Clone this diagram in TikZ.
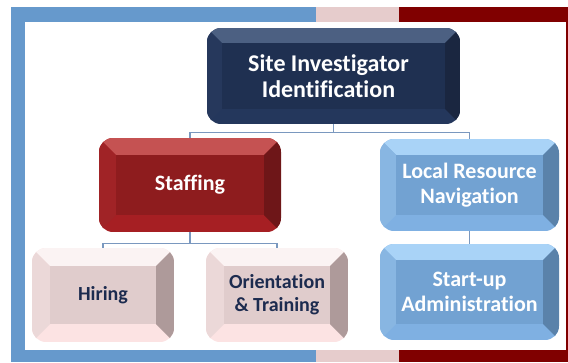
\documentclass[tikz,border=0pt]{standalone}
\usepackage{fontspec}
\setmainfont{Carlito}[Ligatures=NoCommon]
\definecolor{frameblue}{HTML}{6699CC}
\definecolor{framepink}{HTML}{E6CCCC}
\definecolor{framered}{HTML}{800000}
\definecolor{navyB}{HTML}{1F3051}
\definecolor{navyT}{HTML}{4C6082}
\definecolor{navyL}{HTML}{26385C}
\definecolor{navyR}{HTML}{1A2640}
\definecolor{navyD}{HTML}{24375C}
\definecolor{redB}{HTML}{8E1C1E}
\definecolor{redT}{HTML}{C55252}
\definecolor{redL}{HTML}{A02326}
\definecolor{redR}{HTML}{6E1618}
\definecolor{redD}{HTML}{A61F23}
\definecolor{bluB}{HTML}{72A2D2}
\definecolor{bluT}{HTML}{A9D3F7}
\definecolor{bluL}{HTML}{88B6E2}
\definecolor{bluR}{HTML}{5A82AA}
\definecolor{bluD}{HTML}{7FB0E2}
\definecolor{pnkB}{HTML}{E0CCCC}
\definecolor{pnkT}{HTML}{FBF3F3}
\definecolor{pnkL}{HTML}{EBD8D8}
\definecolor{pnkR}{HTML}{AE9A9A}
\definecolor{pnkD}{HTML}{FCE3E3}
\definecolor{navytext}{HTML}{1C2B4F}
\definecolor{connc}{HTML}{7A98BF}
\tikzset{
  bigtext/.style={text=white,font=\fontsize{24}{26}\selectfont\bfseries},
  whitetext/.style={text=white,font=\fontsize{22}{25}\selectfont\bfseries},
  darktext/.style={text=navytext,font=\fontsize{20}{23}\selectfont\bfseries},
  conn/.style={draw=connc,line width=1.2pt},
}
\newcommand{\BevBox}[9]{%
  \pgfmathsetmacro{\bxa}{#2+#6}%
  \pgfmathsetmacro{\bxb}{#4-#6}%
  \pgfmathsetmacro{\bya}{#3+#6}%
  \pgfmathsetmacro{\byb}{#5-#6}%
  \pgfmathsetmacro{\bcx}{(#2+#4)/2}%
  \pgfmathsetmacro{\bcy}{(#3+#5)/2}%
  \pgfmathsetmacro{\bw}{#4-#2}%
  \pgfmathsetmacro{\bh}{#5-#3}%
  \begin{scope}
    \clip[rounded corners=14pt] (#2pt,-#3pt) rectangle (#4pt,-#5pt);
    \fill[#7D] (#2pt,-#3pt) rectangle (#4pt,-#5pt);
    \fill[#7T] (#2pt,-#3pt) -- (#4pt,-#3pt) -- (\bxb pt,-\bya pt) -- (\bxa pt,-\bya pt) -- cycle;
    \fill[#7L] (#2pt,-#3pt) -- (\bxa pt,-\bya pt) -- (\bxa pt,-\byb pt) -- (#2pt,-#5pt) -- cycle;
    \fill[#7R] (#4pt,-#3pt) -- (\bxb pt,-\bya pt) -- (\bxb pt,-\byb pt) -- (#4pt,-#5pt) -- cycle;
    \fill[#7B] (\bxa pt,-\bya pt) rectangle (\bxb pt,-\byb pt);
  \end{scope}
  \node[#8,align=center,inner sep=0pt,minimum width=\bw pt,minimum height=\bh pt] (#1) at (\bcx pt,-\bcy pt) {#9};
}
\begin{document}
\begin{tikzpicture}[x=1pt,y=1pt]
\useasboundingbox (0,0) rectangle (568,-362);
% frame
\fill[frameblue] (11,-7) rectangle (316,-22);
\fill[framepink] (316,-7) rectangle (399,-22);
\fill[framered] (399,-7) rectangle (568,-22);
\fill[frameblue] (11,-7) rectangle (25,-362);
\fill[frameblue] (11,-350) rectangle (316,-362);
\fill[framepink] (316,-350) rectangle (399,-362);
\fill[framered] (399,-350) rectangle (568,-362);
\fill[framered] (566,-7) rectangle (568,-362);
% boxes
\BevBox{top}{207}{28}{460}{124}{15}{navy}{bigtext}{Site Investigator\hspace*{10pt}\\Identification\hspace*{10pt}}
\BevBox{staff}{99}{138}{281}{232}{17}{red}{whitetext}{Staffing}
\BevBox{local}{380}{139}{559}{231}{16}{blu}{whitetext}{Local Resource\\Navigation}
\BevBox{start}{380}{244}{559}{340}{16}{blu}{whitetext}{Start-up\\Administration}
\BevBox{hire}{32}{248}{174}{342}{18}{pnk}{darktext}{Hiring}
\BevBox{orient}{206}{248}{348}{342}{18}{pnk}{darktext}{Orientation\\\& Training}
% connectors
\draw[conn] (top.south) -- ++(0,-8) coordinate (j1);
\draw[conn] (staff.north) |- (j1) -| (local.north);
\draw[conn] (staff.south) -- ++(0,-11) coordinate (j2);
\draw[conn] (hire.north) |- (j2) -| (orient.north);
\draw[conn] (local.south) -- (start.north);
\end{tikzpicture}
\end{document}
